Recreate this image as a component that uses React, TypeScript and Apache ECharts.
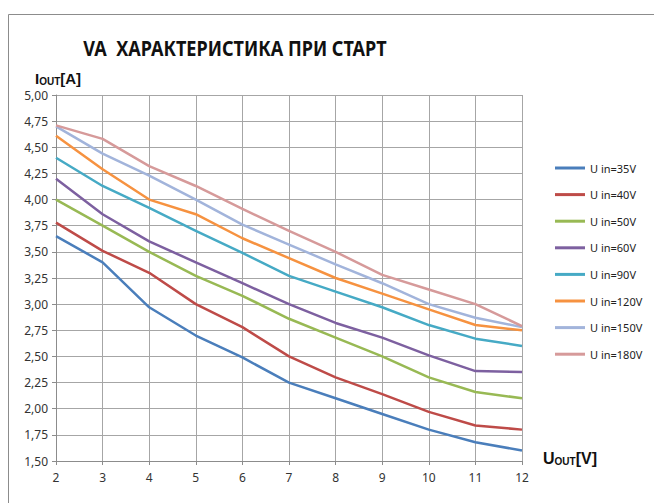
import React, { useEffect, useRef } from "react";
import * as echarts from "echarts";

const xValues = [2, 3, 4, 5, 6, 7, 8, 9, 10, 11, 12];
const seriesNames = ["U in=35V", "U in=40V", "U in=50V", "U in=60V", "U in=90V", "U in=120V", "U in=150V", "U in=180V"];
const u35 = [3.65, 3.4, 2.97, 2.7, 2.49, 2.25, 2.1, 1.95, 1.8, 1.68, 1.6];
const u40 = [3.78, 3.51, 3.3, 3.0, 2.78, 2.5, 2.3, 2.14, 1.97, 1.84, 1.8];
const u50 = [4.0, 3.75, 3.5, 3.27, 3.08, 2.86, 2.68, 2.5, 2.3, 2.16, 2.1];
const u60 = [4.2, 3.86, 3.6, 3.4, 3.2, 3.0, 2.82, 2.68, 2.51, 2.36, 2.35];
const u90 = [4.4, 4.13, 3.92, 3.7, 3.49, 3.27, 3.12, 2.97, 2.8, 2.67, 2.6];
const u120 = [4.61, 4.29, 4.0, 3.86, 3.63, 3.44, 3.25, 3.1, 2.95, 2.8, 2.75];
const u150 = [4.7, 4.44, 4.23, 4.0, 3.76, 3.57, 3.38, 3.2, 3.0, 2.87, 2.78];
const u180 = [4.71, 4.58, 4.32, 4.13, 3.91, 3.7, 3.5, 3.28, 3.14, 3.0, 2.79];
const allValues = [u35, u40, u50, u60, u90, u120, u150, u180];
const colors = ["#4A7EBB", "#BE4B48", "#98B954", "#7D60A0", "#46AAC5", "#F69240", "#A2B4DB", "#D69A9A"];

const title = "VA  ХАРАКТЕРИСТИКА ПРИ СТАРТ";

export default function App() {
  const ref = useRef<HTMLDivElement>(null);
  useEffect(() => {
    if (!ref.current) return;
    const chart = echarts.init(ref.current, null, { renderer: "svg" });
    const font = "Noto Sans";
    const boldFont = "Liberation Sans";
    chart.setOption({
      animation: false,
      backgroundColor: "#ffffff",
      color: colors,
      textStyle: { fontFamily: font },
      grid: { left: 56, right: 132, top: 95, bottom: 42 },
      legend: {
        orient: "vertical",
        left: 550,
        top: 156,
        icon: "rect",
        itemWidth: 30,
        itemHeight: 3,
        itemGap: 12.6,
        textStyle: { fontSize: 11, color: "#222", lineHeight: 14, fontFamily: font },
        data: seriesNames,
      },
      xAxis: {
        type: "value",
        min: 2,
        max: 12,
        interval: 1,
        axisLine: { show: true, lineStyle: { color: "#8c8c8c", width: 1 } },
        axisTick: { show: true, length: 4, lineStyle: { color: "#8c8c8c" } },
        axisLabel: { fontSize: 12, color: "#333", margin: 10 },
        splitLine: { show: true, lineStyle: { color: "#a6a6a6", width: 1 } },
      },
      yAxis: {
        type: "value",
        min: 1.5,
        max: 5,
        interval: 0.25,
        axisLine: { show: true, lineStyle: { color: "#8c8c8c", width: 1 } },
        axisTick: { show: true, length: 4, lineStyle: { color: "#8c8c8c" } },
        axisLabel: {
          fontSize: 12,
          color: "#333",
          margin: 8,
          formatter: (v: number) => v.toFixed(2).replace(".", ","),
        },
        splitLine: { show: true, lineStyle: { color: "#a6a6a6", width: 1 } },
      },
      series: seriesNames.map((name, i) => ({
        name,
        type: "line",
        data: xValues.map((x, j) => [x, allValues[i][j]]),
        showSymbol: false,
        symbol: "none",
        lineStyle: { width: 2.5, color: colors[i] },
        itemStyle: { color: colors[i] },
      })),
      graphic: [
        {
          type: "rect",
          shape: { x: 8.5, y: 14.5, width: 700, height: 600 },
          style: { fill: "none", stroke: "#8c8c8c", lineWidth: 1 },
          silent: true,
        },
        {
          type: "text",
          x: 235,
          y: 48,
          scaleX: 0.82,
          style: {
            text: title,
            font: `bold 22px "Noto Sans"`,
            fill: "#111",
            align: "center",
            verticalAlign: "middle",
          },
        },
        {
          type: "text",
          x: 35,
          y: 78,
          style: {
            text: "{a|I}{b|OUT}{a|[A]}",
            verticalAlign: "middle",
            rich: {
              a: { fontSize: 15, fontWeight: "bold", fill: "#111", fontFamily: boldFont },
              b: { fontSize: 10, fontWeight: "bold", fill: "#111", fontFamily: boldFont, padding: [6, 0, 0, 0] },
            },
          },
        },
        {
          type: "text",
          x: 543,
          y: 458,
          style: {
            text: "{a|U}{b|OUT}{a|[V]}",
            verticalAlign: "middle",
            rich: {
              a: { fontSize: 16, fontWeight: "bold", fill: "#111", fontFamily: boldFont },
              b: { fontSize: 10, fontWeight: "bold", fill: "#111", fontFamily: boldFont, padding: [6, 0, 0, 0] },
            },
          },
        },
      ],
    });
    return () => chart.dispose();
  }, []);
  return (
    <div
      ref={ref}
      style={{ position: "fixed", left: 0, top: 0, width: 654, height: 503 }}
    />
  );
}
